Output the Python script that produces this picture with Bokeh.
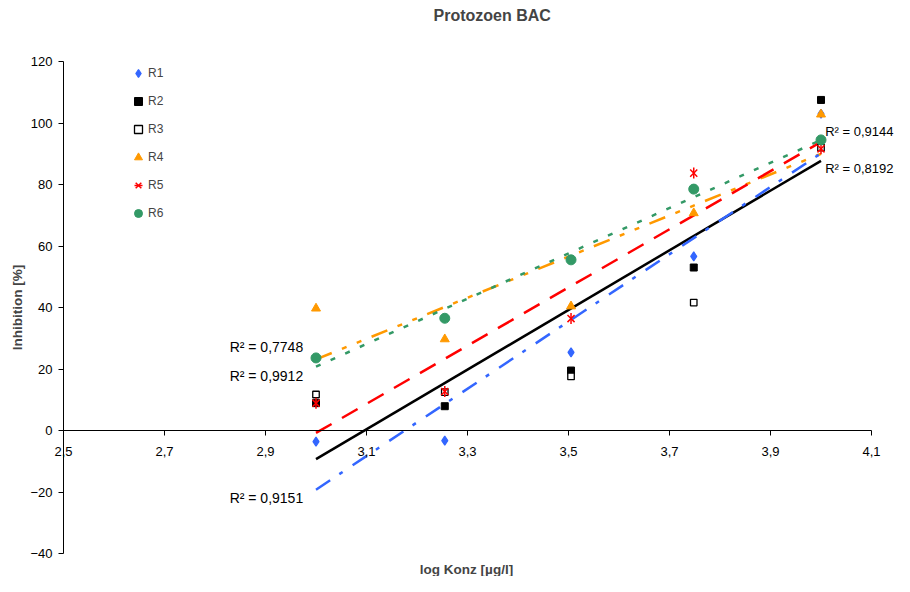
import numpy as np
from bokeh.plotting import figure
from bokeh.models import (Range1d, FixedTicker, CustomJSTickFormatter, Label,
                          Legend, LegendItem)
from bokeh.embed import file_html
from bokeh.resources import INLINE

# ---- data ----
log_konz = [3.0, 3.255, 3.505, 3.748, 4.0]
r1 = [-3.6, -3.3, 25.4, 56.6, 103.0]
r2 = [8.9, 7.9, 19.5, 53.0, 107.5]
r3 = [11.7, 12.5, 17.6, 41.6, 92.0]
r4 = [39.7, 29.7, 40.4, 70.7, 102.8]
r5 = [8.9, 12.7, 36.4, 83.7, 91.6]
r6 = [23.6, 36.5, 55.5, 78.5, 94.5]
series_names = ["R1", "R2", "R3", "R4", "R5", "R6"]
x_ticks = [2.5, 2.7, 2.9, 3.1, 3.3, 3.5, 3.7, 3.9, 4.1]
y_ticks = [-40, -20, 0, 20, 40, 60, 80, 100, 120]
r2_texts = ["R² = 0,7748", "R² = 0,9912", "R² = 0,9151", "R² = 0,9144", "R² = 0,8192"]

FONT = "Liberation Sans"
BLUE, BLACK, ORANGE, RED, GREEN = "#3366FF", "#000000", "#FF9900", "#FF0000", "#339966"

# layout: plot area 808 x 492 px inside the canvas
W, H = 894, 576
PL, PT = 63, 61
PR, PB = W - PL - 808, H - PT - 492
xa, xb = x_ticks[0], x_ticks[-1]
ya, yb = y_ticks[0], y_ticks[-1]
sx = (xb - xa) / 808
sy = (yb - ya) / 492

p = figure(width=W, height=H, output_backend="svg", toolbar_location=None,
           x_range=Range1d(xa - PL * sx, xb + PR * sx),
           y_range=Range1d(ya - PB * sy, yb + PT * sy),
           min_border=0, background_fill_color="white", border_fill_color="white")
p.outline_line_color = None
p.grid.visible = False

# axes
p.xaxis.fixed_location = 0
p.xaxis.bounds = (xa, xb)
p.xaxis.ticker = FixedTicker(ticks=x_ticks)
p.xaxis.formatter = CustomJSTickFormatter(code="return tick.toFixed(1).replace('.', ',')")
p.yaxis.fixed_location = xa
p.yaxis.bounds = (ya, yb)
p.yaxis.ticker = FixedTicker(ticks=y_ticks)
for ax in (p.xaxis, p.yaxis):
    ax.minor_tick_line_color = None
    ax.major_tick_in = 0
    ax.major_tick_out = 5
    ax.axis_line_color = "black"
    ax.major_tick_line_color = "black"
    ax.major_label_text_font = FONT
    ax.major_label_text_font_size = "13px"
    ax.major_label_text_color = "black"
p.xaxis.major_label_standoff = 11
p.yaxis.major_label_standoff = 6

# trendlines (linear least squares, as in the spreadsheet)
xs = np.array(log_konz)
ends = [log_konz[0], log_konz[-1]]
trend_specs = [
    (r4, ORANGE, "17 11 5 11 5 11"),
    (r6, GREEN, "5 11"),
    (r5, RED, "18 12"),
    (r2, BLACK, None),
    (r1, BLUE, "17 11 4 12"),
]
for ys, col, dash in trend_specs:
    k, d = np.polyfit(xs, np.array(ys), 1)
    yy = [k * e + d for e in ends]
    kw = dict(line_color=col, line_width=2.5)
    if dash:
        kw["line_dash"] = dash
    p.line(ends, yy, **kw)

# markers
g1 = p.scatter(log_konz, r1, marker="diamond", size=9, fill_color=BLUE, line_color=BLUE,
               line_width=1.2)
g2 = p.scatter(log_konz, r2, marker="square", size=7, fill_color=BLACK, line_color=BLACK)
g3 = p.scatter(log_konz, r3, marker="square", size=6.5, fill_color="white",
               line_color=BLACK, line_width=1.3)
g4 = p.scatter(log_konz, r4, marker="triangle", size=9, fill_color=ORANGE, line_color=ORANGE)
g5a = p.scatter(log_konz, r5, marker="x", size=10, line_color=RED, line_width=1.5)
g5b = p.scatter(log_konz, r5, marker="dash", angle=np.pi / 2, size=11, line_color=RED,
                line_width=1.5)
g6 = p.scatter(log_konz, r6, marker="circle", size=10, fill_color=GREEN, line_color=GREEN)

# legend: rows centred at y = 73 ... 211 px, glyphs centred at x = 138 px
legend = Legend(items=[
    LegendItem(label=series_names[0], renderers=[g1]),
    LegendItem(label=series_names[1], renderers=[g2]),
    LegendItem(label=series_names[2], renderers=[g3]),
    LegendItem(label=series_names[3], renderers=[g4]),
    LegendItem(label=series_names[4], renderers=[g5a, g5b]),
    LegendItem(label=series_names[5], renderers=[g6]),
], location=(128, H - 63 - 160), glyph_width=20, glyph_height=20, label_height=20,
    label_standoff=0, padding=0, margin=0, spacing=8,
    label_text_font=FONT, label_text_font_size="12px",
    background_fill_alpha=0, border_line_color=None)
p.add_layout(legend, "center")

# R² labels (left ones in data units, right ones anchored to the right edge)
r2_pos = [(2.829, 27.0), (2.829, 17.6), (2.829, -22.1)]
for txt, (lx, ly) in zip(r2_texts[:3], r2_pos):
    p.add_layout(Label(x=lx, y=ly, text=txt, text_font=FONT, text_font_size="14px",
                       text_baseline="middle", text_align="left", text_color="black"))
for txt, sy_ in zip(r2_texts[3:], [131, 168]):
    p.add_layout(Label(x=W - 1, y=H - sy_, x_units="screen", y_units="screen", text=txt,
                       text_font=FONT, text_font_size="13px", text_baseline="middle",
                       text_align="right", text_color="black"))

# title and axis titles
p.add_layout(Label(x=433, y=H - 15, x_units="screen", y_units="screen",
                   text="Protozoen BAC", text_font=FONT, text_font_size="16px",
                   text_font_style="bold", text_baseline="middle", text_align="left"))
p.add_layout(Label(x=466, y=7, x_units="screen", y_units="screen",
                   text="log Konz [µg/l]", text_font=FONT, text_font_size="13.5px",
                   text_font_style="bold", text_baseline="middle", text_align="center"))
p.add_layout(Label(x=17, y=H - 307, x_units="screen", y_units="screen", angle=np.pi / 2,
                   text="Inhibition [%]", text_font=FONT, text_font_size="13.5px",
                   text_font_style="bold", text_baseline="middle", text_align="center"))

open("out.html", "w").write(file_html(p, INLINE))
